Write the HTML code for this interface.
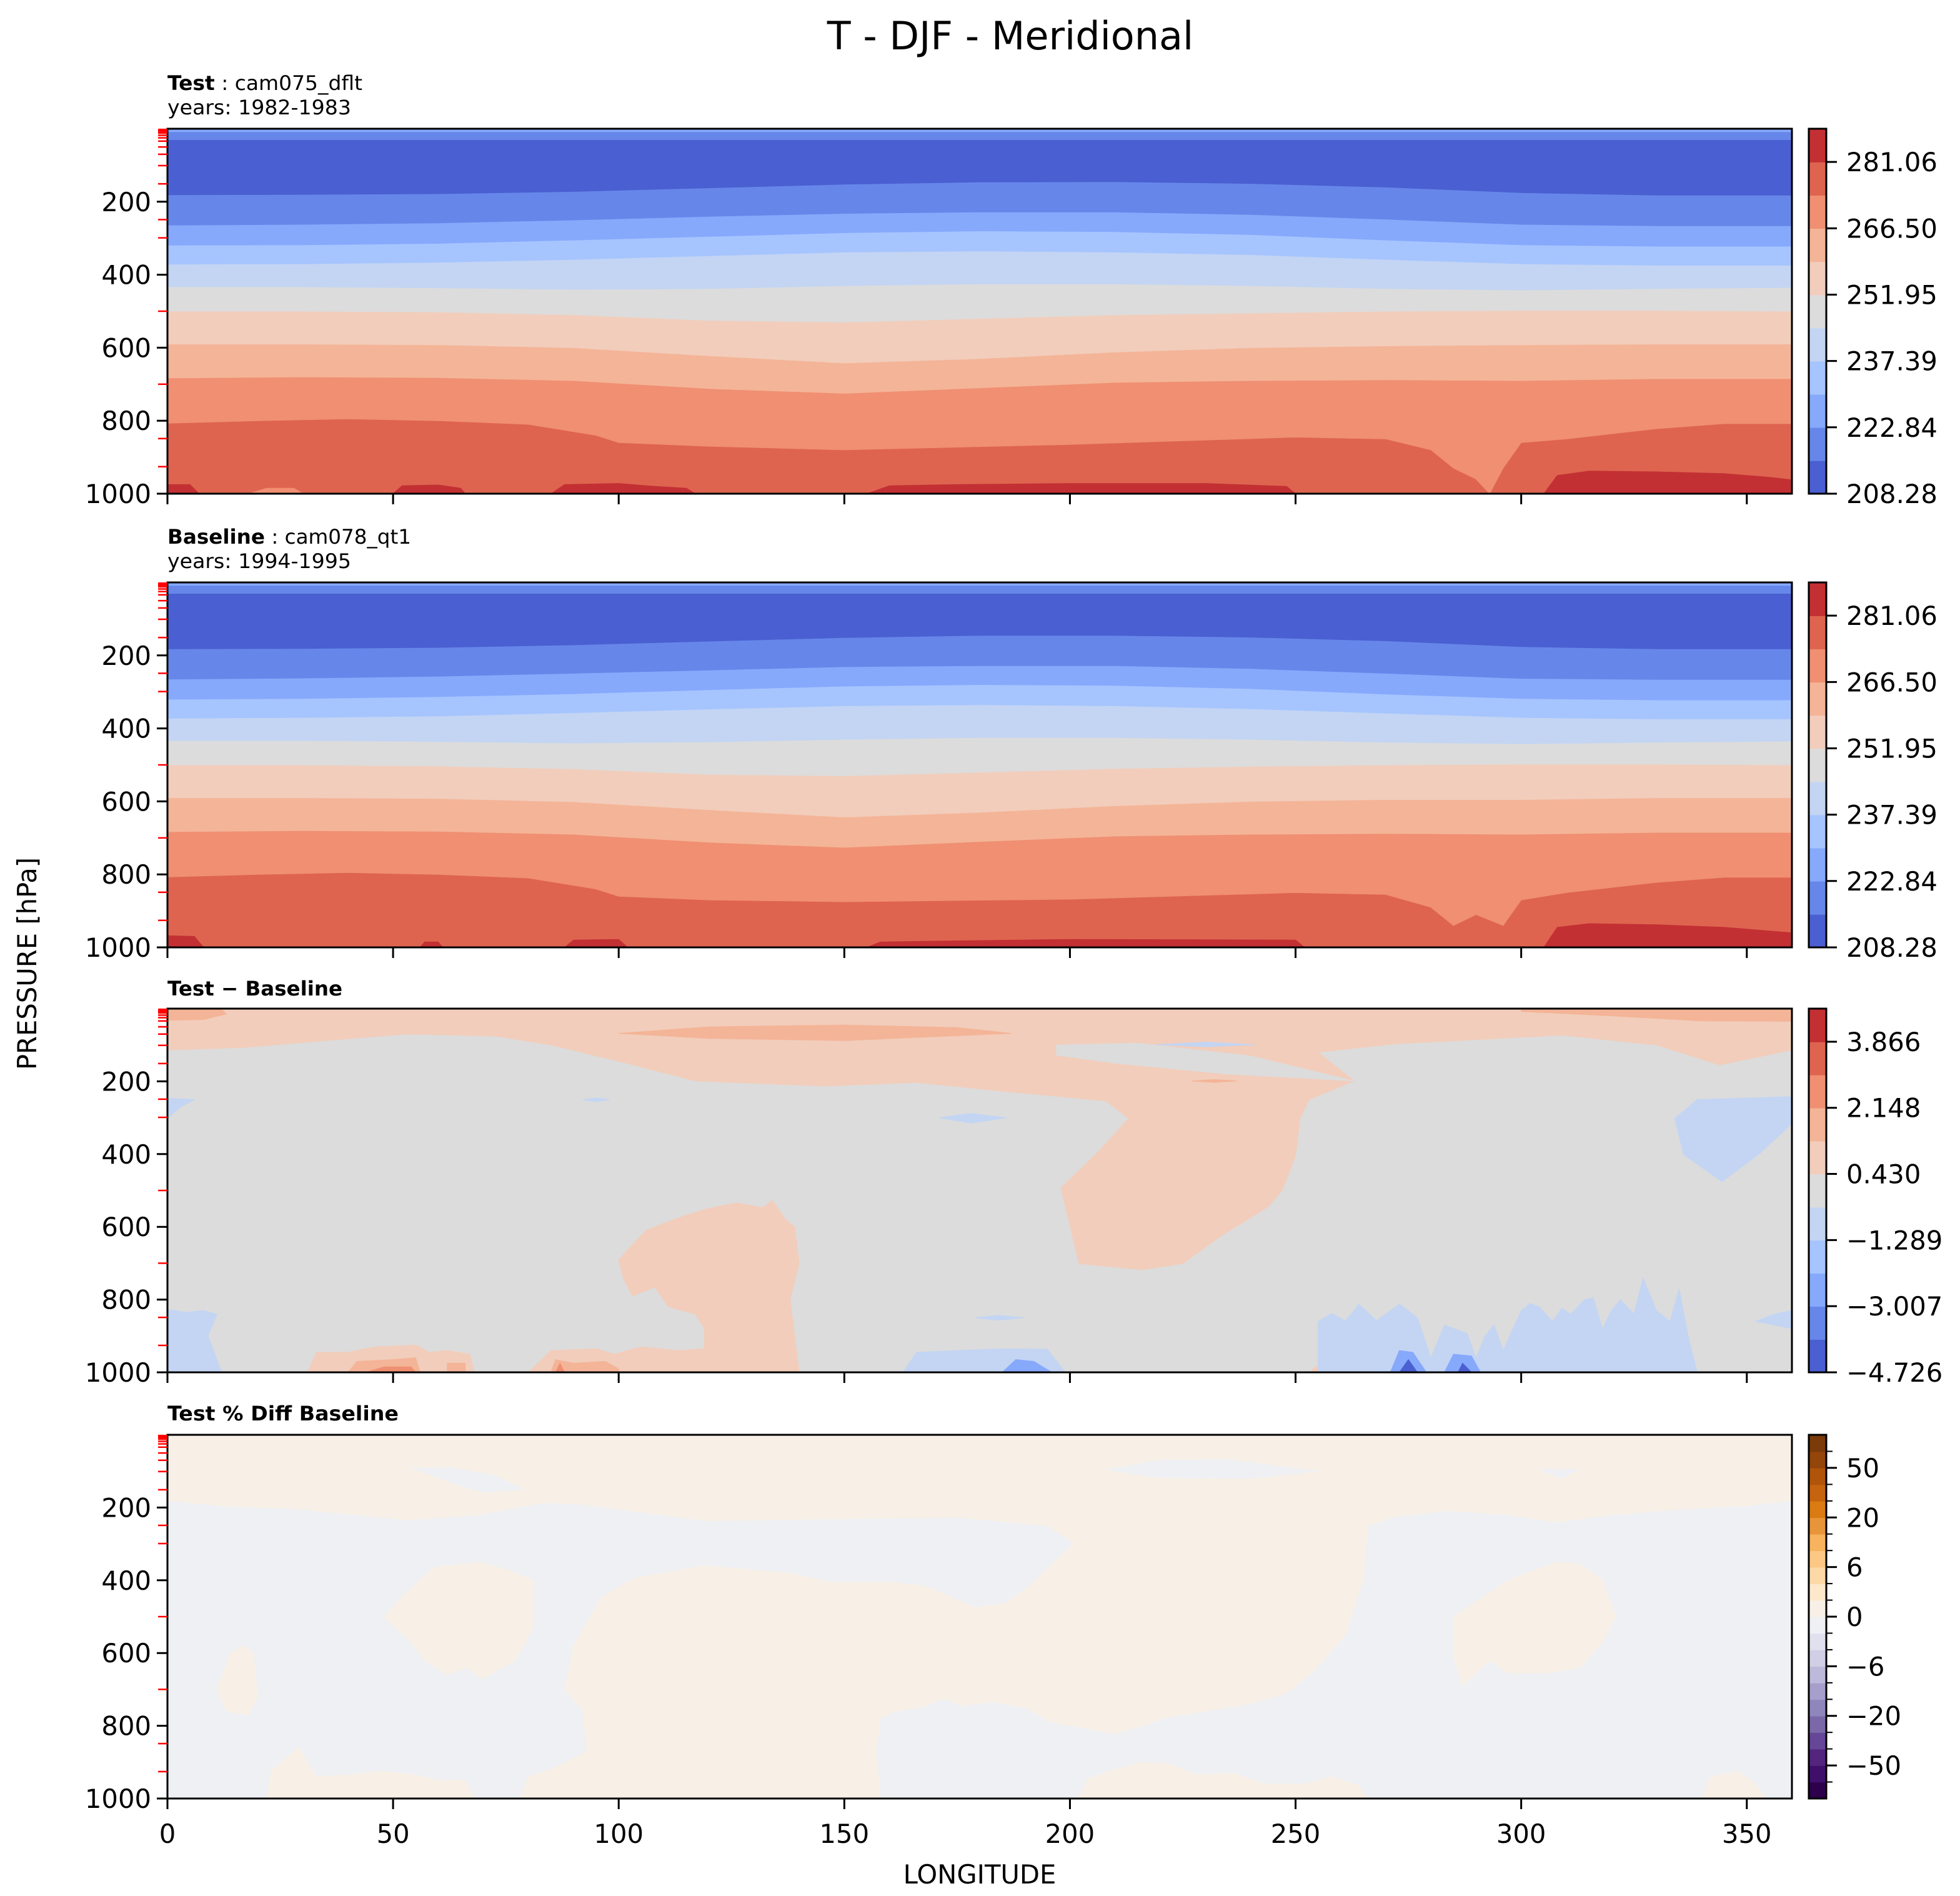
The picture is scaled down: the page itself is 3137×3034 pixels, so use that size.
<!DOCTYPE html>
<html><head><meta charset="utf-8"><title>T - DJF - Meridional</title>
<style>html,body{margin:0;padding:0;background:#fff}svg{display:block}text{font-family:"DejaVu Sans","Liberation Sans",sans-serif;fill:#000}</style></head>
<body>
<svg id="fig" xmlns="http://www.w3.org/2000/svg" width="3137" height="3034" viewBox="0 0 3137 3034">
<rect x="0" y="0" width="3137" height="3034" fill="#fff"/>
<text x="1617" y="79" font-size="62" text-anchor="middle">T - DJF - Meridional</text>
<text x="58" y="1542" font-size="41.7" text-anchor="middle" transform="rotate(-90 58 1542)">PRESSURE [hPa]</text>
<text x="1568" y="3014" font-size="41.7" text-anchor="middle">LONGITUDE</text>
<text x="268" y="144" font-size="32" textLength="312" lengthAdjust="spacingAndGlyphs"><tspan font-weight="bold">Test</tspan> : cam075_dflt</text>
<text x="268" y="183" font-size="32" textLength="294" lengthAdjust="spacingAndGlyphs">years: 1982-1983</text>
<text x="268" y="870" font-size="32" textLength="390" lengthAdjust="spacingAndGlyphs"><tspan font-weight="bold">Baseline</tspan> : cam078_qt1</text>
<text x="268" y="909" font-size="32" textLength="294" lengthAdjust="spacingAndGlyphs">years: 1994-1995</text>
<text x="268" y="1593" font-size="32" font-weight="bold" textLength="280" lengthAdjust="spacingAndGlyphs">Test − Baseline</text>
<text x="268" y="2273" font-size="32" font-weight="bold" textLength="370" lengthAdjust="spacingAndGlyphs">Test % Diff Baseline</text>
</svg>
<script>
// ---------- data ----------
const lonGrid = [0,30,60,90,120,150,180,210,240,270,300,330,360];
const pressureTicks = [200,400,600,800,1000];
const modelLevels = [2,4,6,9,12,18,25,34,50,70,101,151,249,299,500,700,849,926];
const lonTicks = [0,50,100,150,200,250,300,350];

const tempLevels = [208.28,215.56,222.84,230.12,237.39,244.67,251.95,259.23,266.50,273.78,281.06,288.34];
const tempTickLabels = ["208.28","222.84","237.39","251.95","266.50","281.06"];
const tempTickValues = [208.28,222.84,237.39,251.95,266.50,281.06];
const diffLevels = [-4.726,-3.867,-3.007,-2.148,-1.289,-0.430,0.430,1.289,2.148,3.007,3.866,4.726];
const diffTickValues = [-4.726,-3.007,-1.289,0.430,2.148,3.866];
const diffTickLabels = ["−4.726","−3.007","−1.289","0.430","2.148","3.866"];
const pctLevels = [-100,-70,-50,-40,-30,-20,-15,-10,-6,-4,-2,0,2,4,6,10,15,20,30,40,50,70,100];
const pctTickValues = [-50,-20,-6,0,6,20,50];
const pctTickLabels = ["−50","−20","−6","0","6","20","50"];

const coolwarm = ['#4a5fd1','#6687e9','#86a9fc','#a6c4fe','#c3d5f3','#dcdcdc','#f2cdbb','#f4b497','#f08f72','#de6450','#c33033'];
const puor = ['#2d004b','#3f0f6b','#53257f','#654697','#7b68a8','#8f87bc','#a79fcb','#bdb9da','#cfcfe5','#e0e0ee','#eef0f4','#f8f0e6','#fde8cc','#fdd9a8','#fdc784','#f7b35d','#e8953a','#da7b13','#c5630e','#b05409','#93450a','#7a3a09'];

const testIso1 = [181,180,178,172,162,152,146,145,150,160,175,182,182];
const testIso2 = [264,262,258,250,240,232,228,228,235,248,262,266,266];
const testIso3 = [319,318,314,305,295,285,280,282,290,305,318,322,322];
const testIso4 = [371,370,366,358,348,338,335,338,345,358,370,374,374];
const testIso5 = [433,433,436,440,438,430,425,425,430,438,442,438,435];
const testIso6 = [500,500,502,510,525,530,520,510,505,500,498,498,500];
const testIso7 = [590,590,592,600,622,642,630,612,600,595,592,590,590];
const testIso8 = [683,680,682,690,712,725,710,695,690,688,690,685,685];
const iso9Lon = [0,20,40,60,80,95,100,120,150,200,250,270,280,285,290,293,296,300,310,330,345,360];
const testIso9 = [807,800,795,800,810,840,860,870,880,865,845,850,880,930,960,1000,930,860,850,822,808,808];
const testHot = [
 [[0,1000],[0,975],[5,975],[7,1000]],
 [[50,1000],[52,978],[60,976],[65,985],[66,1000]],
 [[85,1000],[88,975],[100,972],[108,980],[115,985],[117,1000]],
 [[155,1000],[160,978],[175,975],[200,972],[230,972],[248,980],[250,1000]],
 [[305,1000],[308,950],[315,938],[330,940],[345,945],[355,955],[360,962],[360,1000]]
];
const testCool = [[[18,1000],[22,985],[28,985],[30,1000]]];

const baseIso1 = [182,181,178,171,161,151,145,145,150,160,176,182,182];
const baseIso2 = [265,262,257,249,240,231,228,228,236,249,263,266,266];
const baseIso3 = [320,318,313,305,294,284,280,282,291,306,318,322,322];
const baseIso4 = [372,370,366,357,347,338,335,338,346,358,370,374,374];
const baseIso5 = [433,433,436,440,437,430,425,425,430,438,442,438,435];
const baseIso6 = [500,500,503,511,526,530,520,510,504,500,498,498,500];
const baseIso7 = [590,590,592,601,623,643,630,612,600,595,595,590,590];
const baseIso8 = [683,680,682,690,712,726,710,695,690,688,690,685,685];
const baseIso9 = [807,800,795,800,810,840,860,870,875,868,850,855,890,940,910,925,940,870,850,822,808,808];
const baseHot = [
 [[0,1000],[0,968],[6,970],[8,1000]],
 [[56,1000],[57,985],[60,985],[61,1000]],
 [[88,1000],[90,980],[100,978],[102,1000]],
 [[155,1000],[158,985],[200,978],[250,980],[252,1000]],
 [[305,1000],[308,945],[315,935],[330,938],[345,945],[355,955],[360,960],[360,1000]]
];

const diffWarm1 = [
 [[0,0],[360,0],[360,114],[344,155],[330,100],[309,73],[272,97],[255,120],[263,199],[253,250],[251,302],[250,404],[247,500],[244,544],[233,629],[225,701],[216,718],[202,701],[198,493],[206,397],[213,302],[208,254],[185,227],[166,203],[146,213],[117,199],[101,148],[85,100],[73,76],[53,70],[33,90],[17,107],[0,114]],
 [[80,1000],[85,940],[95,935],[99,950],[105,930],[113,940],[119,935],[119,880],[117,840],[111,820],[108,766],[103,790],[101,740],[100,690],[103,650],[106,610],[110,590],[115,568],[119,552],[126,534],[132,547],[134,527],[137,580],[139,600],[140,700],[139,750],[138,800],[139,900],[140,1000]],
 [[31,1000],[33,945],[40,945],[46,930],[55,925],[58,945],[62,940],[67,950],[68,1000]],
 [[253,1000],[255,980],[260,978],[262,1000]]
];
const diffNeutralInWarm = [[[197,100],[215,95],[240,130],[263,199],[235,180],[210,150],[197,128]]];
const diffWarm2 = [
 [[0,0],[12,0],[13,15],[8,30],[0,32]],
 [[100,68],[120,50],[150,45],[175,52],[187,68],[150,88],[120,82]],
 [[300,0],[360,0],[360,35],[340,34],[320,20],[300,8]],
 [[227,199],[232,195],[237,199],[232,203]],
 [[40,1000],[42,970],[50,965],[55,960],[56,1000]],
 [[62,1000],[62,975],[66,975],[66,1000]],
 [[85,1000],[86,965],[90,975],[97,970],[100,990],[100,1000]]
];
const diffWarm3 = [
 [[44,1000],[48,985],[54,985],[55,1000]],
 [[86,1000],[87,975],[88,1000]]
];
const diffCool1 = [
 [[0,246],[6,250],[3,270],[0,302]],
 [[0,827],[4,835],[8,830],[11,840],[9,900],[12,1000],[0,1000]],
 [[92,250],[95,246],[98,250],[95,256]],
 [[171,300],[178,288],[186,300],[178,315]],
 [[179,850],[184,843],[190,850],[184,857]],
 [[219,99],[230,92],[241,99],[230,105]],
 [[163,1000],[166,945],[175,940],[185,935],[195,936],[199,1000]],
 [[334,302],[339,250],[360,242],[360,316],[353,397],[344.5,476],[336,401]],
 [[352,860],[356,840],[360,830],[360,880],[356,870]],
 [[255,1000],[255,860],[258,838],[261,858],[263,830],[264,812],[268,858],[271,830],[273,812],[277,850],[280,960],[283,870],[288,893],[290,960],[292,900],[294,870],[296,940],[300,830],[302,810],[304,820],[307,860],[309,824],[311,840],[314,800],[316,795],[318,880],[320,830],[322,800],[325,840],[327,740],[330,830],[333,860],[335,770],[337,900],[339,1000]]
];
const diffCool2 = [
 [[185,1000],[188,965],[192,970],[196,1000]],
 [[271,1000],[273,940],[276,945],[279,1000]],
 [[283,1000],[285,950],[289,955],[291,1000]]
];
const diffCool3 = [[[273,1000],[275,965],[277,1000]],[[286,1000],[287,975],[289,1000]]];

const pctPos = [
 [[0,0],[360,0],[360,181],[350,195],[335,205],[320,220],[308,240],[297,220],[284,208],[272,225],[266,250],[265,400],[261,550],[254,650],[248,710],[240,740],[230,760],[222,775],[216,800],[210,822],[200,800],[196,790],[190,750],[183,735],[176,745],[172,725],[167,750],[161,760],[158,780],[157,870],[158,1000],[78,1000],[80,940],[85,920],[93,870],[92,754],[88,701],[90,581],[96,449],[103,396],[119,360],[138,380],[147,406],[161,406],[168,416],[179,475],[186,462],[191,416],[201,297],[195,250],[175,227],[119,236],[92,191],[83,187],[69,220],[53,234],[28,203],[14,197],[0,181]],
 [[48,500],[52,445],[59,365],[69,350],[75,370],[81,400],[81,530],[79,580],[77,620],[70,670],[66,640],[62,660],[57,620],[54,570]],
 [[285,500],[290,460],[297,400],[308,350],[313,355],[318,400],[321,500],[318,570],[313,640],[306,655],[297,655],[293,620],[287,690],[285,610]],
 [[11,700],[14,600],[17,580],[19,600],[20,720],[18,770],[13,760]],
 [[22,1000],[23,925],[29,860],[33,940],[40,935],[47,925],[55,935],[60,950],[66,950],[68,1000]],
 [[202,1000],[204,945],[210,920],[216,900],[222,905],[228,935],[236,930],[243,960],[252,960],[258,940],[264,965],[266,1000]],
 [[340,1000],[342,940],[348,925],[352,960],[354,1000]]
];
const pctNegInPos = [
 [[54,91],[63,91],[72,110],[79,150],[70,158],[65,140]],
 [[208,96],[220,70],[235,68],[255,100],[240,120],[220,118]],
 [[304,95],[313,95],[309,120]]
];

// ---------- layout ----------
const NS = 'http://www.w3.org/2000/svg';
const svg = document.getElementById('fig');
const PL = 268, PR = 2868;
const panels = [{top:206,bot:790},{top:932,bot:1516},{top:1614,bot:2196},{top:2296,bot:2878}];
const CBX = 2895, CBW = 28;
function X(lon){ return PL + lon/360*(PR-PL); }
function Yp(pn,p){ const q=panels[pn]; return q.top + p/1000*(q.bot-q.top); }
function mk(tag, attrs){ const e=document.createElementNS(NS,tag); for(const k in attrs) e.setAttribute(k,attrs[k]); return e; }
function ptsStr(pn, pts){ return pts.map(d=>X(d[0]).toFixed(1)+','+Yp(pn,d[1]).toFixed(1)).join(' '); }

function drawPoly(g, pn, pts, color, name){
  const el = mk('polygon',{points:ptsStr(pn,pts),fill:color,stroke:color,'stroke-width':1});
  
  
  g.appendChild(el);
}
function isoPoly(lons, ps){ const a=[[0,0],[360,0]]; for(let i=lons.length-1;i>=0;i--) a.push([lons[i],ps[i]]); return a; }

function panelGroup(pn, name){
  const q = panels[pn];
  const cp = mk('clipPath',{id:'clip'+pn});
  cp.appendChild(mk('rect',{x:PL,y:q.top,width:PR-PL,height:q.bot-q.top}));
  svg.appendChild(cp);
  const g = mk('g',{'clip-path':'url(#clip'+pn+')'});
  
  
  svg.appendChild(g);
  return g;
}
function bg(g, pn, color){
  const q=panels[pn];
  const r = mk('rect',{x:PL,y:q.top,width:PR-PL,height:q.bot-q.top,fill:color});
  
  
  g.appendChild(r);
}

function tempPanel(pn, isos, iso9, hot, cool, name){
  const g = panelGroup(pn, name);
  bg(g, pn, coolwarm[9]);
  hot.forEach(p=>drawPoly(g,pn,p,coolwarm[10],'warm-patch'));
  cool.forEach(p=>drawPoly(g,pn,p,coolwarm[8],'cool-patch'));
  drawPoly(g,pn,isoPoly(iso9Lon,iso9),coolwarm[8],'isotherm-band-9');
  for(let k=isos.length-1;k>=0;k--){
    drawPoly(g,pn,isoPoly(lonGrid,isos[k]),coolwarm[k],'isotherm-band-'+(k+1));
  }
  drawPoly(g,pn,[[0,0],[360,0],[360,30],[0,30]],coolwarm[1],'strat-band');
  drawPoly(g,pn,[[0,0],[360,0],[360,8],[0,8]],coolwarm[2],'strat-band-top');
}
tempPanel(0,[testIso1,testIso2,testIso3,testIso4,testIso5,testIso6,testIso7,testIso8],testIso9,testHot,testCool,'test-contour-field');
tempPanel(1,[baseIso1,baseIso2,baseIso3,baseIso4,baseIso5,baseIso6,baseIso7,baseIso8],baseIso9,baseHot,[],'baseline-contour-field');

(function(){
  const g = panelGroup(2,'diff-contour-field');
  bg(g,2,coolwarm[5]);
  diffWarm1.forEach(p=>drawPoly(g,2,p,coolwarm[6],'diff-warm-region'));
  diffNeutralInWarm.forEach(p=>drawPoly(g,2,p,coolwarm[5],'diff-neutral-region'));
  diffWarm2.forEach(p=>drawPoly(g,2,p,coolwarm[7],'diff-warm2-region'));
  diffWarm3.forEach(p=>drawPoly(g,2,p,coolwarm[8],'diff-warm3-region'));
  diffCool1.forEach(p=>drawPoly(g,2,p,coolwarm[4],'diff-cool-region'));
  diffCool2.forEach(p=>drawPoly(g,2,p,coolwarm[2],'diff-cool2-region'));
  diffCool3.forEach(p=>drawPoly(g,2,p,coolwarm[0],'diff-cool3-region'));
})();
(function(){
  const g = panelGroup(3,'pctdiff-contour-field');
  bg(g,3,puor[10]);
  pctPos.forEach(p=>drawPoly(g,3,p,puor[11],'pct-positive-region'));
  pctNegInPos.forEach(p=>drawPoly(g,3,p,puor[10],'pct-negative-region'));
})();

panels.forEach((q,pn)=>{
  const fr = mk('rect',{x:PL,y:q.top,width:PR-PL,height:q.bot-q.top,fill:'none',stroke:'#000','stroke-width':3});
  
  
  svg.appendChild(fr);
  modelLevels.forEach(p=>{
    const t = mk('line',{x1:PL-15,x2:PL,y1:Yp(pn,p),y2:Yp(pn,p),stroke:'#ff0000','stroke-width':2.5});
    
    
    svg.appendChild(t);
  });
  pressureTicks.forEach(p=>{
    const y = Yp(pn,p);
    const t = mk('line',{x1:PL-17,x2:PL,y1:y,y2:y,stroke:'#000','stroke-width':3});
    
    
    svg.appendChild(t);
    const lb = mk('text',{x:PL-26,y:y+15,'font-size':41.7,'text-anchor':'end'});
    lb.textContent = String(p);
    
    
    svg.appendChild(lb);
  });
  lonTicks.forEach(l=>{
    const t = mk('line',{x1:X(l),x2:X(l),y1:q.bot,y2:q.bot+17,stroke:'#000','stroke-width':3});
    
    
    svg.appendChild(t);
    if(pn===3){
      const lb = mk('text',{x:X(l),y:2949,'font-size':41.7,'text-anchor':'middle'});
      lb.textContent = String(l);
      
      
      svg.appendChild(lb);
    }
  });
});

function colorbar(pn, levels, colors, tickVals, tickLabels, byIndex, name){
  const q = panels[pn], n = levels.length-1;
  const g = mk('g',{});
  
  
  svg.appendChild(g);
  const pos = v => {
    if(byIndex){ const i = levels.indexOf(v); return q.bot - i/n*(q.bot-q.top); }
    return q.bot - (v-levels[0])/(levels[n]-levels[0])*(q.bot-q.top);
  };
  for(let i=0;i<n;i++){
    const y1 = pos(levels[i+1]), y0 = pos(levels[i]);
    const r = mk('rect',{x:CBX,y:y1,width:CBW,height:y0-y1+0.8,fill:colors[i]});
    
    
    g.appendChild(r);
    if(byIndex && i>0){
      const m = mk('line',{x1:CBX+CBW,x2:CBX+CBW+10,y1:y0,y2:y0,stroke:'#000','stroke-width':2});
      
      
      g.appendChild(m);
    }
  }
  const fr = mk('rect',{x:CBX,y:q.top,width:CBW,height:q.bot-q.top,fill:'none',stroke:'#000','stroke-width':3});
  
  
  g.appendChild(fr);
  tickVals.forEach((v,i)=>{
    const y = pos(v);
    const t = mk('line',{x1:CBX+CBW,x2:CBX+CBW+17,y1:y,y2:y,stroke:'#000','stroke-width':3});
    
    
    g.appendChild(t);
    const lb = mk('text',{x:2955,y:y+15,'font-size':41.7});
    lb.textContent = tickLabels[i];
    
    
    g.appendChild(lb);
  });
}
colorbar(0,tempLevels,coolwarm,tempTickValues,tempTickLabels,false,'test-colorbar');
colorbar(1,tempLevels,coolwarm,tempTickValues,tempTickLabels,false,'baseline-colorbar');
colorbar(2,diffLevels,coolwarm,diffTickValues,diffTickLabels,false,'diff-colorbar');
colorbar(3,pctLevels,puor,pctTickValues,pctTickLabels,true,'pctdiff-colorbar');
</script>
</body></html>
